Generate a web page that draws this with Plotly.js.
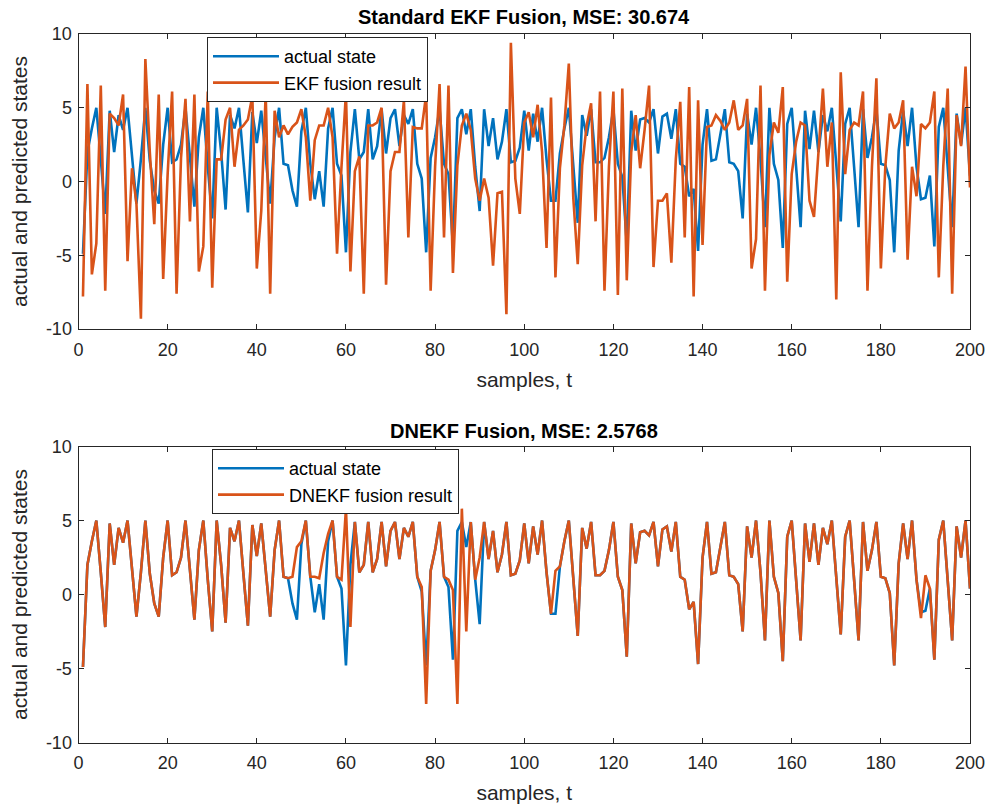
<!DOCTYPE html>
<html>
<head>
<meta charset="utf-8">
<script src="https://cdn.plot.ly/plotly-3.0.1.min.js"></script>
<style>html,body{margin:0;padding:0;background:#fff;}#chart{width:992px;height:812px;}</style>
</head>
<body>
<div id="chart"></div>
<script>
// sample index t = 1..200
const samples = Array.from({length: 200}, (_, i) => i + 1);

const actualState = [
-4.9,2.0,3.6,5.0,1.5,-2.2,4.8,2.0,4.5,3.5,
5.0,1.8,-1.5,1.5,5.0,1.4,-0.6,-1.5,2.5,5.0,
1.3,1.5,2.5,5.0,1.4,-1.7,3.0,5.0,1.0,-2.5,
5.0,2.0,-1.9,4.5,3.6,5.0,1.4,-2.1,4.7,2.6,
4.8,1.4,-1.5,3.0,5.0,1.2,1.1,-0.6,-1.7,3.4,
5.0,1.2,-1.2,0.7,-1.7,3.6,5.0,1.2,0.4,-4.8,
2.0,4.9,1.5,2.0,4.9,1.5,2.4,4.9,1.9,4.3,
4.9,2.4,4.5,3.9,4.9,1.2,0.2,-4.8,1.6,3.0,
4.9,1.2,0.5,-4.4,4.3,4.9,3.2,4.9,1.0,-2.0,
4.9,2.4,4.3,1.5,2.7,4.9,1.3,1.4,2.3,4.8,
2.1,4.6,2.7,5.0,1.5,-1.3,-1.3,1.9,3.6,5.0,
1.0,-2.8,4.5,3.1,4.9,1.3,1.3,1.6,3.0,4.9,
1.2,0.3,-4.2,4.8,2.1,4.2,4.3,4.0,4.9,1.9,
4.4,4.6,2.9,4.9,1.2,1.0,-1.0,-0.5,-4.7,2.5,
4.9,1.4,1.5,3.2,4.9,1.3,1.2,0.7,-2.5,4.6,
2.5,5.0,1.5,-3.1,5.0,1.2,0.1,-4.5,3.9,5.0,
1.0,-3.1,4.8,2.2,4.8,2.0,4.5,3.4,5.0,1.0,
-2.7,3.9,5.0,1.0,-3.1,4.9,1.6,3.0,4.9,1.2,
1.1,0.1,-4.8,2.1,4.8,2.4,5.0,1.0,-1.2,-1.1,
0.4,-4.4,3.7,5.0,1.0,-3.1,4.6,2.5,5.0,0.4
];

const ekfResult = [
-7.8,6.6,-6.3,-4.2,6.5,-7.4,4.6,4.3,3.8,5.9,
-5.4,0.9,-1.5,-9.3,8.3,2.0,-2.9,5.9,-6.6,0.5,
6.1,-7.6,1.6,5.6,-2.7,5.9,-6.1,-4.4,6.1,-7.2,
1.5,1.5,4.2,5.0,1.0,3.5,3.8,4.2,5.8,-5.9,
-2.0,6.0,-7.6,4.8,3.0,3.8,3.2,3.7,4.0,4.9,
3.0,-1.3,2.8,3.8,3.8,5.0,3.0,-4.9,1.0,6.0,
-6.1,0.7,1.7,-7.6,3.8,3.8,4.0,5.0,-7.0,0.7,
2.0,2.0,5.5,-3.8,3.7,3.6,3.6,5.9,-7.4,1.0,
6.6,-3.8,6.5,-6.2,1.1,3.8,4.6,3.5,0.2,-1.3,
0.2,-1.1,-5.7,-0.8,-0.7,-9.0,9.4,0.2,-2.2,4.0,
4.7,3.0,5.2,2.0,-4.5,5.7,-6.5,0.9,3.8,8.0,
-1.1,-5.6,1.1,3.8,5.3,-2.7,6.1,-7.4,1.0,6.1,
-7.7,6.3,-6.7,2.0,4.5,0.9,3.5,6.5,-5.8,-1.3,
-1.3,-0.8,-5.5,1.5,5.4,-3.8,6.4,-7.8,5.5,-4.3,
3.7,3.8,4.5,4.1,3.5,4.0,5.5,3.5,3.8,5.6,
-5.9,-3.9,6.5,-7.4,1.8,4.0,3.3,6.4,-6.8,0.5,
2.7,4.0,3.8,-1.3,-2.4,2.0,6.3,1.0,4.0,-8.0,
7.4,0.5,3.5,4.0,3.8,6.1,-7.4,1.0,7.0,-5.9,
1.0,4.6,3.6,4.0,5.5,-5.3,1.0,-1.0,3.9,3.6,
4.0,6.1,-6.5,1.0,6.3,-7.6,4.5,2.4,7.8,-0.4
];

const dnekfResult = [
-4.9,2.0,3.6,5.0,1.5,-2.2,4.8,2.0,4.5,3.5,
5.0,1.8,-1.5,1.5,5.0,1.4,-0.6,-1.5,2.5,5.0,
1.3,1.5,2.5,5.0,1.4,-1.7,3.0,5.0,1.0,-2.5,
5.0,2.0,-1.9,4.5,3.6,5.0,1.4,-2.1,4.7,2.6,
4.8,1.4,-1.5,3.0,5.0,1.2,1.1,1.2,3.2,3.6,
5.0,1.2,1.2,1.1,2.8,4.1,5.0,1.2,1.0,5.8,
-2.2,4.9,1.5,2.0,4.9,1.5,2.4,4.9,1.9,4.3,
4.9,2.4,4.5,3.9,4.9,1.2,0.5,-7.4,1.6,3.0,
4.9,1.2,1.0,0.3,-7.4,5.8,-2.5,4.9,1.0,2.5,
4.9,2.4,4.3,1.5,2.7,4.9,1.3,1.4,2.3,4.8,
2.1,4.6,2.7,5.0,1.5,-1.3,1.6,1.9,3.6,5.0,
1.0,-2.8,4.5,3.1,4.9,1.3,1.3,1.6,3.0,4.9,
1.2,0.3,-4.2,4.8,2.1,4.2,4.3,4.0,4.9,1.9,
4.4,4.6,2.9,4.9,1.2,1.0,-1.0,-0.5,-4.7,2.5,
4.9,1.4,1.5,3.2,4.9,1.3,1.2,0.7,-2.5,4.6,
2.5,5.0,1.5,-3.1,5.0,1.2,0.1,-4.5,3.9,5.0,
1.0,-3.1,4.8,2.2,4.8,2.0,4.5,3.4,5.0,1.0,
-2.7,3.9,5.0,1.0,-3.1,4.9,1.6,3.0,4.9,1.2,
1.1,0.1,-4.8,2.1,4.8,2.4,5.0,1.0,-1.6,1.3,
0.4,-4.4,3.7,5.0,1.0,-3.1,4.6,2.5,5.0,0.4
];

const xTicks = [0,20,40,60,80,100,120,140,160,180,200];
const yTicks = [-10,-5,0,5,10];

const BLUE = '#0072BD', ORANGE = '#D95319', AX = '#262626';
const FONT = 'Liberation Sans, Arial, Helvetica, sans-serif';
const TICK = 18, LABEL = 21, TITLE = 20, LEG = 18;

const traces = [
  {x: samples, y: actualState, type: 'scatter', mode: 'lines', name: 'actual state',
   line: {color: BLUE, width: 2.6}, xaxis: 'x', yaxis: 'y', legend: 'legend'},
  {x: samples, y: ekfResult, type: 'scatter', mode: 'lines', name: 'EKF fusion result',
   line: {color: ORANGE, width: 2.6}, xaxis: 'x', yaxis: 'y', legend: 'legend'},
  {x: samples, y: actualState, type: 'scatter', mode: 'lines', name: 'actual state',
   line: {color: BLUE, width: 2.6}, xaxis: 'x2', yaxis: 'y2', legend: 'legend2'},
  {x: samples, y: dnekfResult, type: 'scatter', mode: 'lines', name: 'DNEKF fusion result',
   line: {color: ORANGE, width: 2.6}, xaxis: 'x2', yaxis: 'y2', legend: 'legend2'}
];

function xa(anchor, dom) {
  return {domain: dom, anchor: anchor, range: [0, 200], tickvals: xTicks, ticktext: xTicks.map(String),
    ticks: 'inside', ticklen: 5, tickcolor: AX, mirror: 'ticks', showline: true, linecolor: AX, linewidth: 1,
    showgrid: false, zeroline: false, ticklabelstandoff: 4, tickfont: {family: FONT, size: TICK, color: AX},
    title: {text: 'samples, t', font: {family: FONT, size: LABEL, color: AX}, standoff: 13}};
}
function ya(anchor, dom) {
  return {domain: dom, anchor: anchor, range: [-10, 10], tickvals: yTicks, ticktext: yTicks.map(String),
    ticks: 'inside', ticklen: 5, tickcolor: AX, mirror: 'ticks', showline: true, linecolor: AX, linewidth: 1,
    showgrid: false, zeroline: false, ticklabelstandoff: 2, tickfont: {family: FONT, size: TICK, color: AX},
    title: {text: 'actual and predicted states', font: {family: FONT, size: LABEL, color: AX}, standoff: 12}};
}

const XD = [78.5/992, 970/992];
const layout = {
  width: 992, height: 812,
  margin: {l: 0, r: 0, t: 0, b: 0},
  paper_bgcolor: '#fff', plot_bgcolor: '#fff',
  font: {family: FONT, color: AX},
  xaxis: xa('y', XD),
  yaxis: ya('x', [1 - 329/812, 1 - 34/812]),
  xaxis2: xa('y2', XD),
  yaxis2: ya('x2', [1 - 742.5/812, 1 - 446.5/812]),
  showlegend: true,
  legend: {x: 207/992, y: 1 - 37/812, xanchor: 'left', yanchor: 'top', bgcolor: '#fff',
    bordercolor: AX, borderwidth: 1, font: {family: FONT, size: LEG, color: '#000'}, itemwidth: 66, tracegroupgap: 0},
  legend2: {x: 212/992, y: 1 - 449/812, xanchor: 'left', yanchor: 'top', bgcolor: '#fff',
    bordercolor: AX, borderwidth: 1, font: {family: FONT, size: LEG, color: '#000'}, itemwidth: 66, tracegroupgap: 0},
  annotations: [
    {text: '<b>Standard EKF Fusion, MSE: 30.674</b>', xref: 'paper', yref: 'paper',
     x: (78.5 + 970) / 2 / 992, y: 1 - 17/812, xanchor: 'center', yanchor: 'middle', showarrow: false,
     font: {family: FONT, size: TITLE, color: '#000'}},
    {text: '<b>DNEKF Fusion, MSE: 2.5768</b>', xref: 'paper', yref: 'paper',
     x: (78.5 + 970) / 2 / 992, y: 1 - 431/812, xanchor: 'center', yanchor: 'middle', showarrow: false,
     font: {family: FONT, size: TITLE, color: '#000'}}
  ]
};

Plotly.newPlot('chart', traces, layout, {displayModeBar: false, staticPlot: true});
</script>
</body>
</html>
